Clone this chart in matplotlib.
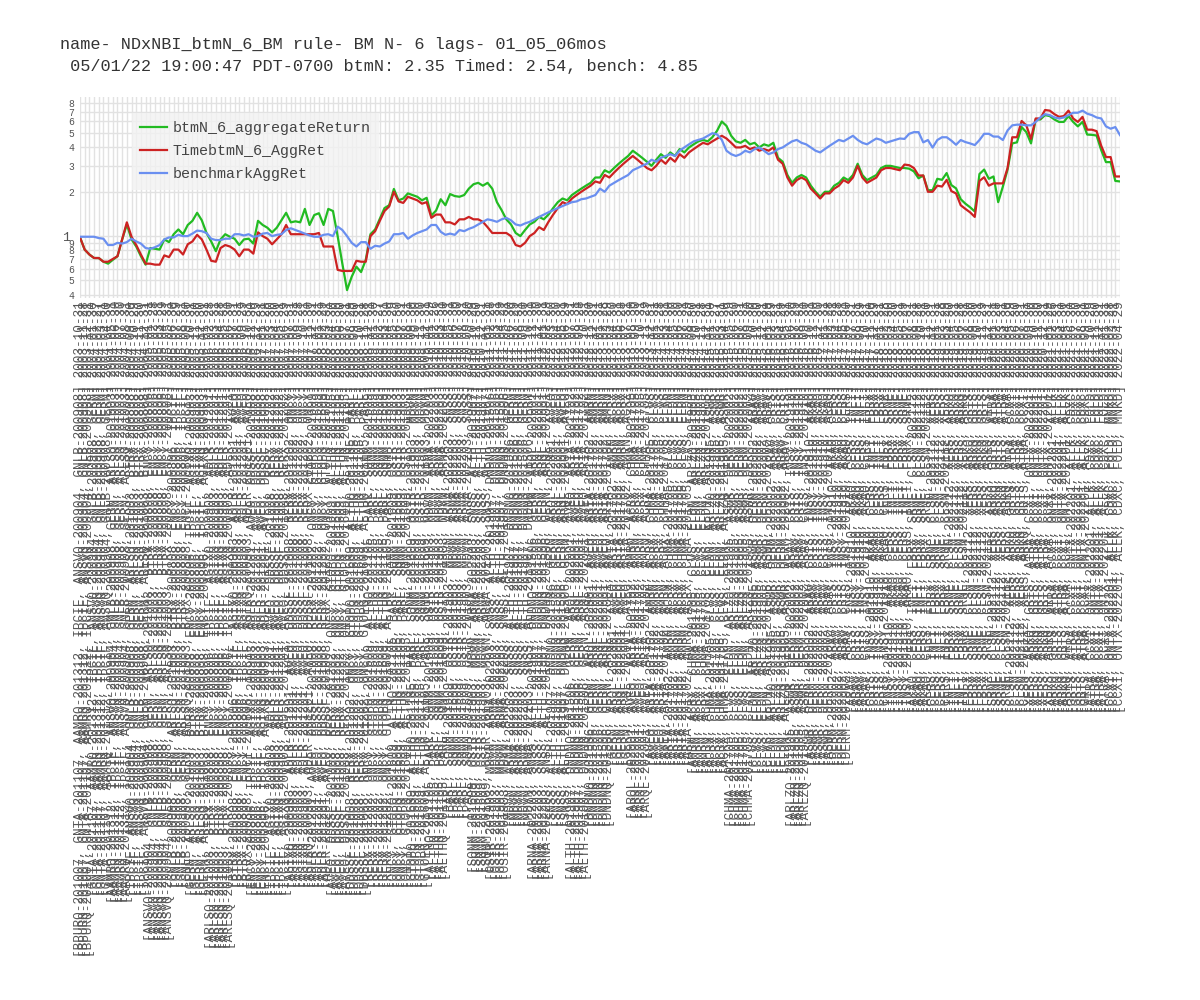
import pandas as pd
import matplotlib
matplotlib.use("Agg")
import matplotlib.pyplot as plt

MONO = ["Liberation Mono", "DejaVu Sans Mono"]

title_txt = ("name- NDxNBI_btmN_6_BM rule- BM N- 6 lags- 01_05_06mos\n"
             " 05/01/22 19:00:47 PDT-0700 btmN: 2.35 Timed: 2.54, bench: 4.85")

btmN = [
    0.98, 0.81, 0.75, 0.71, 0.71, 0.67, 0.65, 0.69, 0.73, 0.95,
    1.20, 0.95, 0.85, 0.73, 0.64, 0.83, 0.82, 0.81, 0.95, 0.91,
    1.03, 1.11, 1.03, 1.19, 1.27, 1.44, 1.28, 1.05, 0.92, 0.79,
    0.95, 1.03, 0.99, 0.96, 0.87, 0.95, 0.96, 0.89, 1.27, 1.19,
    1.14, 1.06, 1.14, 1.28, 1.44, 1.24, 1.26, 1.24, 1.53, 1.19,
    1.39, 1.43, 1.19, 1.53, 1.48, 1.00, 0.65, 0.43, 0.53, 0.62,
    0.57, 0.69, 1.03, 1.11, 1.31, 1.55, 1.62, 2.09, 1.75, 1.80,
    1.95, 1.90, 1.85, 1.75, 1.82, 1.38, 1.49, 1.78, 1.62, 1.93,
    1.87,
    1.85, 1.90, 2.10, 2.25, 2.30, 2.20, 2.30, 2.10, 1.70, 1.50,
    1.30, 1.20, 1.05, 1.00, 1.10, 1.20, 1.25, 1.35, 1.30, 1.40,
    1.55, 1.70, 1.80, 1.75, 1.90, 2.00, 2.10, 2.20, 2.30, 2.50,
    2.50, 2.80, 2.70, 2.90, 3.10, 3.30, 3.50, 3.80, 3.60, 3.40,
    3.20, 3.00, 3.30, 3.60, 3.40, 3.70, 3.50, 3.90, 3.70, 4.00,
    4.20, 4.40, 4.50, 4.40, 4.70, 5.20, 6.00, 5.60, 4.80, 4.40,
    4.30, 4.50, 4.20, 4.30, 4.00, 4.20, 4.10, 4.30, 3.40, 3.20,
    2.60, 2.30, 2.50, 2.60, 2.50, 2.20, 2.00, 1.85, 2.00, 2.00,
    2.20, 2.30, 2.50, 2.40, 2.60, 3.10, 2.60, 2.40, 2.50, 2.60,
    2.90, 3.00, 3.00, 2.95, 2.90,
    2.90, 2.87, 2.75, 2.47, 2.58, 2.05, 2.05, 2.45, 2.41, 2.68,
    2.22, 2.11, 1.78, 1.66, 1.57, 1.47, 2.64, 2.83, 2.45, 2.54,
    1.70, 2.17, 2.83, 4.26, 4.33, 5.50, 5.08, 4.26, 6.19, 6.19,
    6.63, 6.53, 6.19, 5.96, 5.96, 6.53, 5.96, 5.56, 5.96, 4.89,
    4.87, 4.82, 3.83, 3.18, 3.18, 2.37, 2.35,
]

timed = [
    0.98, 0.81, 0.75, 0.71, 0.71, 0.67, 0.67, 0.70, 0.73, 0.95,
    1.24, 0.99, 0.87, 0.75, 0.65, 0.65, 0.64, 0.64, 0.74, 0.72,
    0.81, 0.81, 0.75, 0.88, 0.92, 1.02, 0.95, 0.81, 0.68, 0.67,
    0.83, 0.87, 0.85, 0.81, 0.73, 0.81, 0.81, 0.76, 1.06, 1.00,
    0.96, 0.88, 0.95, 1.03, 1.19, 1.03, 1.03, 1.03, 1.03, 1.03,
    1.03, 1.05, 0.85, 0.85, 0.85, 0.59, 0.58, 0.58, 0.58, 0.68,
    0.67, 0.67, 1.00, 1.08, 1.27, 1.48, 1.59, 2.00, 1.72, 1.68,
    1.85, 1.80, 1.75, 1.66, 1.70, 1.33, 1.40, 1.40, 1.24, 1.24,
    1.20,
    1.30, 1.30, 1.35, 1.30, 1.30, 1.25, 1.15, 1.05, 1.05, 1.05,
    1.05, 1.00, 0.87, 0.85, 0.90, 1.00, 1.05, 1.15, 1.10, 1.25,
    1.40, 1.55, 1.70, 1.65, 1.80, 1.90, 2.00, 2.10, 2.20, 2.35,
    2.30, 2.60, 2.50, 2.70, 2.90, 3.10, 3.30, 3.50, 3.30, 3.10,
    2.90, 2.80, 3.00, 3.30, 3.10, 3.40, 3.20, 3.60, 3.40, 3.70,
    3.90, 4.10, 4.30, 4.20, 4.40, 4.60, 4.80, 4.60, 4.30, 4.00,
    4.00, 4.10, 3.90, 4.00, 3.80, 3.90, 3.80, 4.00, 3.30, 3.10,
    2.50, 2.20, 2.40, 2.50, 2.40, 2.10, 1.95, 1.80, 1.95, 1.95,
    2.10, 2.20, 2.40, 2.30, 2.50, 3.00, 2.50, 2.30, 2.40, 2.50,
    2.80, 2.90, 2.90, 2.85, 2.80,
    3.06, 3.03, 2.90, 2.58, 2.58, 2.00, 2.00, 2.20, 2.17, 2.41,
    2.02, 1.95, 1.62, 1.53, 1.45, 1.35, 2.37, 2.51, 2.20, 2.28,
    2.28, 2.28, 2.90, 4.69, 4.69, 6.05, 5.65, 4.57, 6.29, 6.29,
    7.18, 7.11, 6.73, 6.45, 6.53, 7.11, 6.29, 5.96, 6.45, 5.28,
    5.28, 5.16, 4.10, 3.44, 3.44, 2.54, 2.54,
]

bench = [
    0.99, 0.99, 0.99, 0.99, 0.97, 0.96, 0.87, 0.87, 0.90, 0.89,
    0.91, 0.96, 0.92, 0.89, 0.83, 0.82, 0.84, 0.87, 0.95, 0.98,
    0.98, 1.02, 1.00, 1.00, 1.04, 1.09, 1.08, 1.05, 0.96, 0.94,
    0.94, 0.96, 0.96, 1.03, 1.03, 1.01, 1.03, 0.99, 1.00, 1.04,
    1.05, 1.00, 1.02, 1.03, 1.10, 1.13, 1.10, 1.07, 1.04, 1.01,
    0.99, 0.99, 1.02, 1.03, 1.00, 1.16, 1.10, 1.00, 0.90, 0.85,
    0.91, 0.91, 0.82, 0.86, 0.85, 0.89, 0.92, 1.03, 1.03, 1.05,
    0.96, 1.01, 1.05, 1.08, 1.11, 1.19, 1.19, 1.07, 1.02, 1.04,
    1.02,
    1.10, 1.08, 1.12, 1.15, 1.20, 1.25, 1.30, 1.28, 1.25, 1.30,
    1.33, 1.28, 1.20, 1.18, 1.22, 1.25, 1.30, 1.35, 1.40, 1.45,
    1.50, 1.55, 1.60, 1.65, 1.70, 1.72, 1.78, 1.80, 1.85, 1.90,
    2.10, 2.00, 2.20, 2.30, 2.40, 2.50, 2.60, 2.80, 2.90, 3.00,
    3.10, 3.30, 3.20, 3.40, 3.50, 3.60, 3.50, 3.80, 4.00, 4.20,
    4.40, 4.50, 4.60, 4.80, 5.00, 4.90, 4.50, 3.80, 3.60, 3.50,
    3.60, 3.80, 3.70, 3.90, 4.00, 3.80, 3.60, 3.70, 3.90, 4.00,
    4.20, 4.40, 4.50, 4.30, 4.20, 4.00, 3.80, 3.70, 3.90, 4.10,
    4.30, 4.50, 4.40, 4.60, 4.80, 4.50, 4.30, 4.20, 4.40, 4.60,
    4.50, 4.30, 4.40, 4.50, 4.60,
    4.57, 4.95, 5.08, 5.08, 4.33, 4.49, 3.99, 4.49, 4.69, 4.69,
    4.45, 4.17, 4.49, 4.35, 4.26, 4.15, 4.49, 4.95, 4.95, 4.74,
    4.74, 4.49, 5.22, 5.65, 5.71, 5.71, 5.65, 5.65, 5.96, 6.39,
    6.73, 6.63, 6.39, 6.29, 6.39, 6.63, 6.88, 6.88, 7.11, 6.78,
    6.63, 6.39, 6.29, 5.56, 5.36, 5.50, 4.85,
]

# bottom-6 holdings, roughly in the order they show up under the axis
tickers = [
    "BPURQ-201007", "GNTA-201107", "AAMRQ-201312", "IPCIF", "ANSVQ-200904",
    "GNLB-200908", "GERN", "ARLSQ-201003", "BTRX-200808", "ENCY-200806",
    "IPCIF", "AGIXQ-200903", "ADLR-201201", "AVEO", "DDSSF-201008",
    "RERX-201202", "ONCY", "GTOPQ-201609", "ALTHQ-201105", "PARL",
    "SQNM-201609", "OSIR-201903", "MDVN", "ARNA-202203", "SNSS",
    "ALTH-201907", "DNDNQ-201506", "GERN", "ARQL-202001", "AVEO",
    "ARIA-201702", "AMRN", "ACRX", "CHMA-201705", "CLVS", "ELDN",
    "ARLZQ-201905", "ASWR", "DERM-202002", "ARAV", "CRIS",
    "INSY-201910", "AKAO", "CERS", "INFI", "FBRX", "SRNE",
    "CLSN-202112", "XERS", "ARKQ", "GRTS", "ATRA", "CCXI",
    "ONTX-202201", "ALLK", "CDXC", "FOLD", "MNKD",
]

dates = pd.date_range(end="2022-04-30", periods=len(btmN), freq="BME")

labels = []
span = len(tickers) - 6
for i, d in enumerate(dates):
    k = round(i * span / (len(dates) - 1))
    labels.append("[" + ", ".join(tickers[k:k + 6]) + "] " + d.strftime("%Y-%m-%d"))

fig = plt.figure(figsize=(12, 10), dpi=100)
ax = fig.add_axes([80 / 1200, 1 - 298 / 1000, 1040 / 1200, 201 / 1000])

x = list(range(len(dates)))
ax.plot(x, btmN, color="#22bb22", lw=1.6, label="btmN_6_aggregateReturn")
ax.plot(x, timed, color="#cc2222", lw=1.6, label="TimebtmN_6_AggRet")
ax.plot(x, bench, color="#6a8ff0", lw=1.6, label="benchmarkAggRet")

ax.set_yscale("log")
ax.set_ylim(0.38, 8.8)
ax.set_xlim(0, len(dates) - 1)

yt = [0.4, 0.5, 0.6, 0.7, 0.8, 0.9, 1, 2, 3, 4, 5, 6, 7, 8]
ax.set_yticks(yt)
ax.set_yticks([], minor=True)
ax.set_yticklabels(["4", "5", "6", "7", "8", "9", "1", "2", "3", "4", "5", "6", "7", "8"])
for t in ax.get_yticklabels():
    t.set_fontfamily(MONO)
    t.set_color("#555555")
    if t.get_text() == "1":
        t.set_fontsize(9.5)
        t.set_x(-0.004)
    else:
        t.set_fontsize(7)

ax.set_xticks(x)
ax.set_xticklabels(labels, rotation=90, fontsize=9.2, family=MONO, color="#555555")
ax.tick_params(axis="both", length=0, pad=2)
ax.tick_params(axis="y", pad=4)

ax.grid(True, color="#e2e2e2", lw=1)
ax.set_axisbelow(True)
for s in ax.spines.values():
    s.set_visible(False)

leg = ax.legend(loc="upper left", bbox_to_anchor=(0.05, 0.92), frameon=True,
                prop={"family": MONO, "size": 10.8}, handlelength=1.8,
                handletextpad=0.35, borderpad=0.55, labelspacing=0.6,
                borderaxespad=0, fancybox=False)
leg.get_frame().set_facecolor("#f2f2f2")
leg.get_frame().set_edgecolor("none")
for t in leg.get_texts():
    t.set_color("#444444")

fig.text(60 / 1200, 1 - 37 / 1000, title_txt, family=MONO, fontsize=12.2,
         color="#333333", va="top", ha="left", linespacing=1.6)

fig.savefig("out.png", dpi=100)
